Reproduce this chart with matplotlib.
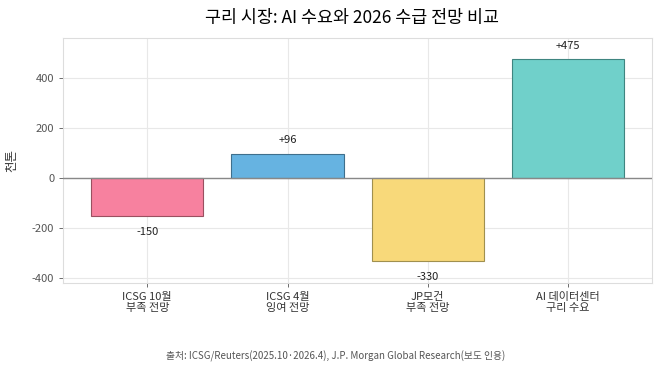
import matplotlib
matplotlib.use("Agg")
import matplotlib.pyplot as plt

plt.rcParams['font.family'] = ['Noto Sans CJK KR', 'DejaVu Sans']
plt.rcParams['axes.unicode_minus'] = False

categories = ["ICSG 10월\n부족 전망", "ICSG 4월\n잉여 전망", "JP모건\n부족 전망", "AI 데이터센터\n구리 수요"]
values = [-150, 96, -330, 475]
value_labels = ["-150", "+96", "-330", "+475"]
colors = ["#f7819f", "#66b3e1", "#f8d97a", "#70d0ca"]
edges = ["#9a5060", "#3f6f8c", "#a0904f", "#3f8580"]

fig, ax = plt.subplots(figsize=(6.58, 3.71), dpi=100)
fig.subplots_adjust(left=0.096, right=0.991, top=0.897, bottom=0.237)

x = range(len(categories))
ax.bar(x, values, width=0.8, color=colors, edgecolor=edges, linewidth=0.8, zorder=3)
ax.axhline(0, color="#888888", linewidth=1, zorder=4)

for xi, v, lab in zip(x, values, value_labels):
    off = 10 if v > 0 else -12
    ax.annotate(lab, (xi, v), xytext=(0, off), textcoords="offset points",
                ha="center", va="center", fontsize=8, color="#222222")

ax.set_xticks(list(x))
ax.set_xticklabels(categories, fontsize=8, color="#333333", linespacing=1.05)
ax.set_xlim(-0.6, 3.6)
ax.set_ylim(-420, 560)
ax.set_yticks([-400, -200, 0, 200, 400])
ax.tick_params(axis="y", labelsize=8, colors="#555555", length=3, width=0.6)
ax.tick_params(axis="x", length=3, width=0.6, colors="#555555")
for lbl in ax.get_xticklabels():
    lbl.set_color("#333333")
ax.set_ylabel("천톤", fontsize=9, color="#333333", labelpad=10)
ax.grid(True, color="#e8e8e8", linewidth=0.8, zorder=0)
for s in ax.spines.values():
    s.set_color("#dddddd")
    s.set_linewidth(0.8)

fig.suptitle("구리 시장: AI 수요와 2026 수급 전망 비교", fontsize=12.5, x=0.535, y=0.975)
fig.text(0.51, 0.04, "출처: ICSG/Reuters(2025.10·2026.4), J.P. Morgan Global Research(보도 인용)",
         ha="center", va="center", fontsize=7, color="#555555")

fig.savefig("out.png", dpi=100)
